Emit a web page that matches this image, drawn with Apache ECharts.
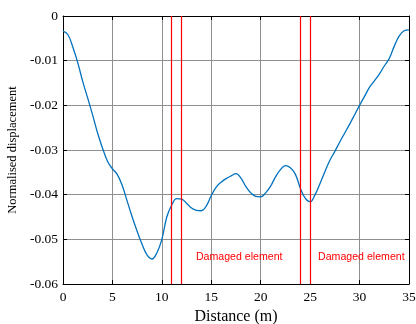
<!DOCTYPE html>
<html>
<head>
<meta charset="utf-8">
<script src="https://cdn.jsdelivr.net/npm/echarts@6/dist/echarts.min.js"></script>
<style>
  html, body { margin: 0; padding: 0; background: #fff; }
  #chart { width: 416px; height: 324px; }
</style>
</head>
<body>
<div id="chart"></div>
<script>
// distance along the beam (m)
var distance = [0, 0.5, 1, 1.5, 2, 2.5, 3, 3.5, 4, 4.5, 5, 5.5, 6, 6.5, 7, 7.5, 8, 8.5, 9, 9.5,
  10, 10.5, 11, 11.5, 12, 12.5, 13, 13.5, 14, 14.5, 15, 15.5, 16, 16.5, 17, 17.5, 18, 18.5, 19, 19.5,
  20, 20.5, 21, 21.5, 22, 22.5, 23, 23.5, 24, 24.5, 25, 25.5, 26, 26.5, 27, 27.5, 28, 28.5, 29, 29.5,
  30, 30.5, 31, 31.5, 32, 32.5, 33, 33.5, 34, 34.5, 35]
// normalised displacement
var displacement = [-0.0034, -0.0042, -0.0070, -0.0105, -0.0147, -0.0184, -0.0222, -0.0262, -0.0296, -0.0325,
  -0.0342, -0.0355, -0.0380, -0.0415, -0.0450, -0.0482, -0.0511, -0.0535, -0.0544, -0.0530,
  -0.0500, -0.0450, -0.0423, -0.0409, -0.0410, -0.0419, -0.0430, -0.0435, -0.0436, -0.0425,
  -0.0402, -0.0383, -0.0372, -0.0364, -0.0358, -0.0353, -0.0363, -0.0382, -0.0396, -0.0404,
  -0.0405, -0.0396, -0.0381, -0.0360, -0.0344, -0.0335, -0.0340, -0.0354, -0.0385, -0.0408,
  -0.0416, -0.0400, -0.0375, -0.0348, -0.0323, -0.0303, -0.0282, -0.0262, -0.0242, -0.0221,
  -0.0200, -0.0180, -0.0160, -0.0145, -0.0130, -0.0112, -0.0095, -0.0068, -0.0045, -0.0033, -0.0031]
// element boundaries of the damaged elements
var damageLines = [11, 12, 24, 25]
var damageLabels = [
  { text: 'Damaged element', x: 13.45, y: -0.0539 },
  { text: 'Damaged element', x: 25.8, y: -0.0539 }
]

var serif = 'Liberation Serif'
var gridColor = '#8f8f8f'

var myChart = echarts.init(document.getElementById('chart'))

var points = []
for (var i = 0; i < distance.length; i++) {
  points.push([distance[i], displacement[i]])
}

var baseX = {
  type: 'value', min: 0, max: 35, interval: 5,
  axisLine: { show: true, onZero: false, lineStyle: { color: '#000', width: 1 } },
  axisTick: { show: true, inside: true, length: 4, lineStyle: { color: '#000' } },
  splitLine: { show: false }
}
var baseY = {
  type: 'value', min: -0.06, max: 0, interval: 0.01,
  axisLine: { show: true, onZero: false, lineStyle: { color: '#000', width: 1 } },
  axisTick: { show: true, inside: true, length: 4, lineStyle: { color: '#000' } },
  splitLine: { show: false }
}

var option = {
  animation: false,
  grid: { left: 63, right: 7, top: 16, bottom: 40, outerBoundsMode: 'none', containLabel: false },
  xAxis: [
    Object.assign({}, baseX, {
      position: 'bottom',
      name: 'Distance (m)',
      nameLocation: 'middle',
      nameGap: 22,
      nameTextStyle: { fontFamily: serif, fontSize: 16, color: '#000' },
      axisLabel: { fontFamily: serif, fontSize: 13.5, color: '#000', margin: 6 },
      splitLine: { show: true, lineStyle: { color: gridColor, width: 1 } }
    }),
    Object.assign({}, baseX, { position: 'top', axisLabel: { show: false } })
  ],
  yAxis: [
    Object.assign({}, baseY, {
      position: 'left',
      name: 'Normalised displacement',
      nameLocation: 'middle',
      nameGap: 40,
      nameTextStyle: { fontFamily: serif, fontSize: 12.5, color: '#000' },
      axisLabel: { fontFamily: serif, fontSize: 13.5, color: '#000', margin: 5,
        formatter: function (v) { return v === 0 ? '0' : v.toFixed(2) } },
      splitLine: { show: true, lineStyle: { color: gridColor, width: 1 } }
    }),
    Object.assign({}, baseY, { position: 'right', axisLabel: { show: false } })
  ],
  series: [
    {
      type: 'line',
      data: points,
      smooth: 0.4,
      symbol: 'none',
      lineStyle: { color: '#0072bd', width: 1.3 },
      z: 3,
      markLine: {
        silent: true,
        symbol: 'none',
        label: { show: false },
        lineStyle: { color: '#ff0000', width: 1.2, type: 'solid' },
        data: damageLines.map(function (d) { return { xAxis: d } })
      },
      markPoint: {
        silent: true,
        symbol: 'circle',
        symbolSize: 0,
        label: {
          show: true, position: 'inside', align: 'left',
          fontFamily: 'Liberation Sans', fontSize: 10.6, color: '#ff0000',
          formatter: function (p) { return p.name }
        },
        data: damageLabels.map(function (d) { return { name: d.text, coord: [d.x, d.y] } })
      }
    }
  ]
}

myChart.setOption(option)
</script>
</body>
</html>
